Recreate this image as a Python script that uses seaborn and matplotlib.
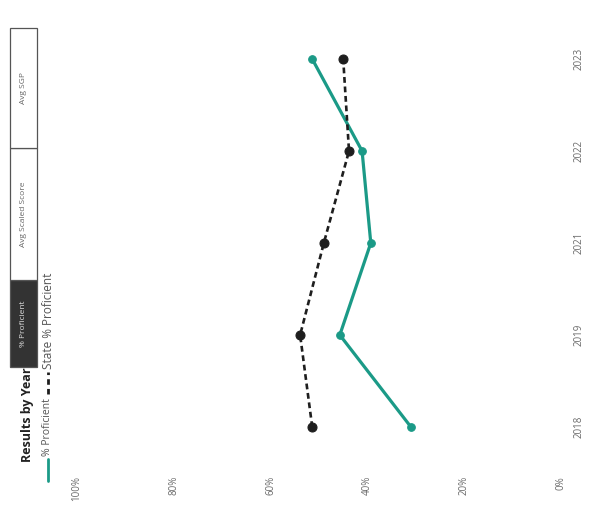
import pandas as pd
import seaborn as sns
import matplotlib.pyplot as plt
from matplotlib.lines import Line2D
from matplotlib.patches import Rectangle

years = ["2018", "2019", "2021", "2022", "2023"]
school_pct = [31.0, 45.7, 39.3, 41.1, 51.4]   # % Proficient
state_pct = [51.4, 53.9, 49.0, 43.8, 45.0]    # State % Proficient
pct_ticks = [0, 20, 40, 60, 80, 100]
buttons = ["% Proficient", "Avg Scaled Score", "Avg SGP"]

teal = "#1b9a87"
dark = "#1e1e1e"

sns.set_style("white")
plt.rcParams["font.family"] = ["Open Sans", "DejaVu Sans"]

df = pd.DataFrame({"year": years, "pos": range(len(years)),
                   "school": school_pct, "state": state_pct})

W, H = 596, 518
fig = plt.figure(figsize=(W / 100, H / 100), dpi=100)
ax = fig.add_axes([77 / W, 1 - 473 / H, 484 / W, 460 / H])

# the page is scanned sideways: percent runs right-to-left, years bottom-to-top
sns.lineplot(data=df, x="school", y="pos", orient="y", sort=False, ax=ax,
             color=teal, lw=2.3, marker="o", ms=5.5, mec=teal)
sns.lineplot(data=df, x="state", y="pos", orient="y", sort=False, ax=ax,
             color=dark, lw=1.9, ls=(0, (2.2, 1.4)), marker="o", ms=6.5, mec=dark)

ax.set_xlim(100, 0)
ax.set_ylim(-0.5, len(years) - 0.5)
ax.set_xticks(pct_ticks)
ax.set_xticklabels([f"{v}%" for v in pct_ticks], rotation=90, va="top")
ax.yaxis.tick_right()
ax.set_yticks(df["pos"])
ax.set_yticklabels(years, rotation=90, va="center", ha="left")
ax.tick_params(length=0, labelsize=7, labelcolor="#6a6a6a")
ax.tick_params(axis="x", pad=2)
ax.tick_params(axis="y", pad=9)
ax.set_xlabel("")
ax.set_ylabel("")
for s in ax.spines.values():
    s.set_visible(False)

def fx(px):
    return px / W

def fy(py):
    return 1 - py / H

# title
fig.text(fx(28), fy(415), "Results by Year", rotation=90, ha="center", va="center",
         fontsize=9, fontweight="bold", color="#222222")

# toggle buttons
spans = [(280, 367), (148, 280), (28, 148)]
for label, (top, bot) in zip(buttons, spans):
    active = label == buttons[0]
    fig.add_artist(Rectangle((fx(10), fy(bot)), fx(27), (bot - top) / H,
                             transform=fig.transFigure,
                             facecolor="#333333" if active else "white",
                             edgecolor="#555555", lw=0.9))
    fig.text(fx(23.5), fy((top + bot) / 2), label, rotation=90, ha="center", va="center",
             fontsize=6, color="#dddddd" if active else "#666666")

# legend
fig.add_artist(Line2D([fx(48), fx(48)], [fy(481), fy(459)], transform=fig.transFigure,
                      color=teal, lw=2))
fig.text(fx(48), fy(456), "% Proficient", rotation=90, ha="center", va="bottom",
         fontsize=7.5, color="#555555")
fig.add_artist(Line2D([fx(48), fx(48)], [fy(394), fy(372)], transform=fig.transFigure,
                      color=dark, lw=2, ls=(0, (2, 1.5))))
fig.text(fx(48), fy(369), "State % Proficient", rotation=90, ha="center", va="bottom",
         fontsize=8.5, color="#555555")

fig.savefig("out.png", dpi=100)
